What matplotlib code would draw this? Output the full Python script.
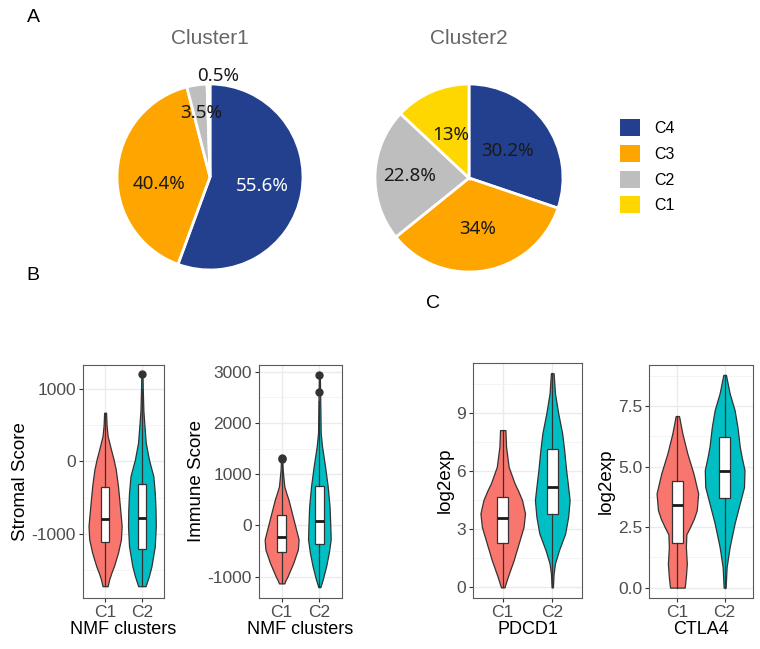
import matplotlib
matplotlib.use("Agg")
import numpy as np
import matplotlib.pyplot as plt
from matplotlib.patches import Patch
from matplotlib.ticker import FixedLocator

plt.rcParams['font.family'] = ['Liberation Sans', 'DejaVu Sans']
plt.rcParams['axes.unicode_minus'] = False

# ---- pie data ----
pie_groups = ['C4', 'C3', 'C2', 'C1']
pie_colors = ['#23408E', '#FFA500', '#BEBEBE', '#FFD700']
cluster1_pct = [55.6, 40.4, 3.5, 0.5]
cluster2_pct = [30.2, 34, 22.8, 13]
cluster1_labels = ['55.6%', '40.4%', '3.5%', '0.5%']
cluster2_labels = ['30.2%', '34%', '22.8%', '13%']

# ---- violin profiles: (value, relative half width) ----
stromal_c1_y = [-1720, -1628, -1536, -1444, -1260, -1076, -892, -662, -500, -340, -110, 30, 166, 349, 500, 672]
stromal_c1_w = [0.07, 0.11, 0.17, 0.24, 0.35, 0.43, 0.45, 0.41, 0.38, 0.35, 0.29, 0.23, 0.16, 0.07, 0.04, 0.026]
stromal_c2_y = [-1720, -1580, -1444, -1168, -892, -662, -432, -202, 28, 258, 487, 700, 948, 1200]
stromal_c2_w = [0.10, 0.19, 0.26, 0.35, 0.377, 0.37, 0.35, 0.31, 0.19, 0.105, 0.07, 0.04, 0.026, 0.015]
immune_c1_y = [-1130, -1060, -988, -728, -468, -273, -13, 247, 507, 640, 766, 1092, 1320]
immune_c1_w = [0.07, 0.11, 0.16, 0.31, 0.43, 0.45, 0.36, 0.27, 0.18, 0.12, 0.07, 0.027, 0.015]
immune_c2_y = [-1203, -1053, -793, -533, -273, -13, 376, 766, 1156, 1546, 1807, 2618, 2940]
immune_c2_w = [0.027, 0.09, 0.18, 0.25, 0.30, 0.29, 0.27, 0.22, 0.15, 0.07, 0.035, 0.02, 0.012]
pdcd1_c1_y = [0, 0.53, 1.40, 2.26, 3.12, 3.82, 4.51, 5.0, 5.37, 6.23, 7.27, 8.13]
pdcd1_c1_w = [0.035, 0.10, 0.22, 0.32, 0.42, 0.45, 0.39, 0.31, 0.24, 0.12, 0.067, 0.054]
pdcd1_c2_y = [0, 0.71, 1.23, 1.92, 2.78, 3.64, 4.51, 5.2, 6.06, 7.10, 7.96, 9.0, 10.04, 11.07]
pdcd1_c2_w = [0.013, 0.027, 0.054, 0.135, 0.26, 0.32, 0.35, 0.32, 0.28, 0.24, 0.20, 0.12, 0.054, 0.027]
ctla4_c1_y = [0, 0.44, 0.99, 1.68, 2.2, 2.51, 2.85, 3.2, 3.89, 4.72, 5.55, 6.37, 7.09]
ctla4_c1_w = [0.155, 0.18, 0.20, 0.18, 0.19, 0.27, 0.35, 0.41, 0.44, 0.34, 0.21, 0.106, 0.035]
ctla4_c2_y = [0, 0.85, 1.68, 2.65, 3.48, 4.16, 4.86, 5.4, 5.82, 6.65, 7.34, 8.03, 8.79]
ctla4_c2_w = [0.021, 0.042, 0.106, 0.21, 0.32, 0.41, 0.42, 0.36, 0.32, 0.27, 0.21, 0.106, 0.028]

# ---- box stats: q1, median, q3, whisker low, whisker high, outliers ----
stromal_c1_box = [-1113, -800, -354, -1720, 672, []]
stromal_c2_box = [-1204, -786, -317, -1720, 1000, [1200]]
immune_c1_box = [-513, -220, 201, -1130, 1200, [1300, 1320]]
immune_c2_box = [-370, 92, 766, -1203, 2420, [2600, 2940]]
pdcd1_c1_box = [2.30, 3.59, 4.68, 0, 8.13, []]
pdcd1_c2_box = [3.78, 5.2, 7.13, 0, 11.07, []]
ctla4_c1_box = [1.85, 3.41, 4.40, 0, 7.09, []]
ctla4_c2_box = [3.72, 4.81, 6.23, 0, 8.79, []]

clusters = ['C1', 'C2']
violin_colors = ['#F8766D', '#00BFC4']

W, H = 760, 649
fig = plt.figure(figsize=(W / 100, H / 100), dpi=100)


def px_axes(x0, y0, x1, y1):
    return fig.add_axes([x0 / W, 1 - y1 / H, (x1 - x0) / W, (y1 - y0) / H])


def draw_pie(cx, cy, r, values, labels, radii, title, text_colors, nudges):
    ax = px_axes(cx - r, cy - r, cx + r, cy + r)
    wedges, _ = ax.pie(values, colors=pie_colors, startangle=90, counterclock=False,
                       wedgeprops=dict(edgecolor='white', linewidth=2))
    ax.set_xlim(-1, 1)
    ax.set_ylim(-1, 1)
    ax.set_aspect('equal')
    for w, lab, rr, tc, (dx, dy) in zip(wedges, labels, radii, text_colors, nudges):
        ang = np.deg2rad((w.theta1 + w.theta2) / 2)
        ax.text(rr * np.cos(ang) + dx, rr * np.sin(ang) + dy, lab, ha='center', va='center',
                fontsize=13.5, color=tc, family=['Noto Sans', 'DejaVu Sans'], clip_on=False)
    fig.text(cx / W, 1 - 39 / H, title, ha='center', va='center', fontsize=15, color='#666666')


draw_pie(210, 177, 93, cluster1_pct, cluster1_labels, [0.57, 0.55, 0.70, 1.09], 'Cluster1',
         ['white', '#1a1a1a', '#1a1a1a', '#1a1a1a'], [(0, 0), (0, -0.1), (0, 0), (0.1, 0)])
draw_pie(469, 178, 94, cluster2_pct, cluster2_labels, [0.5, 0.55, 0.63, 0.5], 'Cluster2',
         ['#1a1a1a'] * 4, [(0, 0)] * 4)

handles = [Patch(facecolor=c, edgecolor='none') for c in pie_colors]
fig.legend(handles, pie_groups, loc='upper left', bbox_to_anchor=(614 / W, 1 - 113 / H),
           frameon=False, fontsize=11.5, handlelength=1.25, handleheight=1.25,
           labelspacing=0.55, handletextpad=0.9, borderaxespad=0)

for lab, (x, y) in zip(['A', 'B', 'C'], [(33, 18), (33, 276), (433, 304)]):
    fig.text(x / W, 1 - y / H, lab, ha='center', va='center', fontsize=14)


def draw_violins(box, profiles, boxes, ylim, yticks, ytick_labels, yminor, ylabel, xlabel):
    ax = px_axes(*box)
    ax.set_axisbelow(True)
    ax.set_xlim(0.4, 2.6)
    ax.set_ylim(*ylim)
    for i, ((ys, ws), col) in enumerate(zip(profiles, violin_colors)):
        stats = [dict(coords=np.array(ys, float), vals=np.array(ws, float),
                      mean=0, median=0, min=ys[0], max=ys[-1])]
        parts = ax.violin(stats, positions=[i + 1], widths=[2 * max(ws)],
                          showextrema=False, showmedians=False, showmeans=False)
        for b in parts['bodies']:
            b.set_facecolor(col)
            b.set_edgecolor('#333333')
            b.set_linewidth(0.9)
            b.set_alpha(1)
            b.set_zorder(2)
            b.set_joinstyle('round')
    bstats = [dict(q1=b[0], med=b[1], q3=b[2], whislo=b[3], whishi=b[4], fliers=b[5]) for b in boxes]
    ax.bxp(bstats, positions=[1, 2], widths=0.22, patch_artist=True, showcaps=False,
           manage_ticks=False, zorder=3,
           boxprops=dict(facecolor='white', edgecolor='#333333', linewidth=0.9),
           medianprops=dict(color='#1a1a1a', linewidth=2.0),
           whiskerprops=dict(color='#333333', linewidth=0.9),
           flierprops=dict(marker='o', markerfacecolor='#333333', markeredgecolor='#333333',
                           markersize=5))
    ax.set_xticks([1, 2])
    ax.set_xticklabels(clusters)
    ax.set_yticks(yticks)
    ax.set_yticklabels(ytick_labels)
    ax.yaxis.set_minor_locator(FixedLocator(yminor))
    ax.grid(which='major', color='#EBEBEB', linewidth=1.0)
    ax.grid(which='minor', axis='y', color='#F2F2F2', linewidth=0.6)
    ax.tick_params(which='major', length=3, width=0.8, color='#333333', labelcolor='#4D4D4D',
                   labelsize=12.5, pad=2)
    ax.tick_params(which='minor', length=0)
    for s in ax.spines.values():
        s.set_color('#5a5a5a')
        s.set_linewidth(0.8)
    ax.set_ylabel(ylabel, fontsize=13.5, labelpad=2)
    ax.set_xlabel(xlabel, fontsize=13, labelpad=1)
    return ax


draw_violins((83, 365, 164, 598),
             [(stromal_c1_y, stromal_c1_w), (stromal_c2_y, stromal_c2_w)],
             [stromal_c1_box, stromal_c2_box], (-1883, 1331),
             [-1000, 0, 1000], ['-1000', '0', '1000'], [-1500, -500, 500],
             'Stromal Score', 'NMF clusters')
draw_violins((259, 365, 342, 598),
             [(immune_c1_y, immune_c1_w), (immune_c2_y, immune_c2_w)],
             [immune_c1_box, immune_c2_box], (-1415, 3130),
             [-1000, 0, 1000, 2000, 3000], ['-1000', '0', '1000', '2000', '3000'],
             [-500, 500, 1500, 2500], 'Immune Score', 'NMF clusters')
draw_violins((473, 363, 582, 598),
             [(pdcd1_c1_y, pdcd1_c1_w), (pdcd1_c2_y, pdcd1_c2_w)],
             [pdcd1_c1_box, pdcd1_c2_box], (-0.55, 11.6),
             [0, 3, 6, 9], ['0', '3', '6', '9'], [1.5, 4.5, 7.5, 10.5],
             'log2exp', 'PDCD1')
draw_violins((649, 365, 753, 598),
             [(ctla4_c1_y, ctla4_c1_w), (ctla4_c2_y, ctla4_c2_w)],
             [ctla4_c1_box, ctla4_c2_box], (-0.43, 9.2),
             [0, 2.5, 5.0, 7.5], ['0.0', '2.5', '5.0', '7.5'], [1.25, 3.75, 6.25, 8.75],
             'log2exp', 'CTLA4')

fig.savefig('out.png', dpi=100, facecolor='white')
